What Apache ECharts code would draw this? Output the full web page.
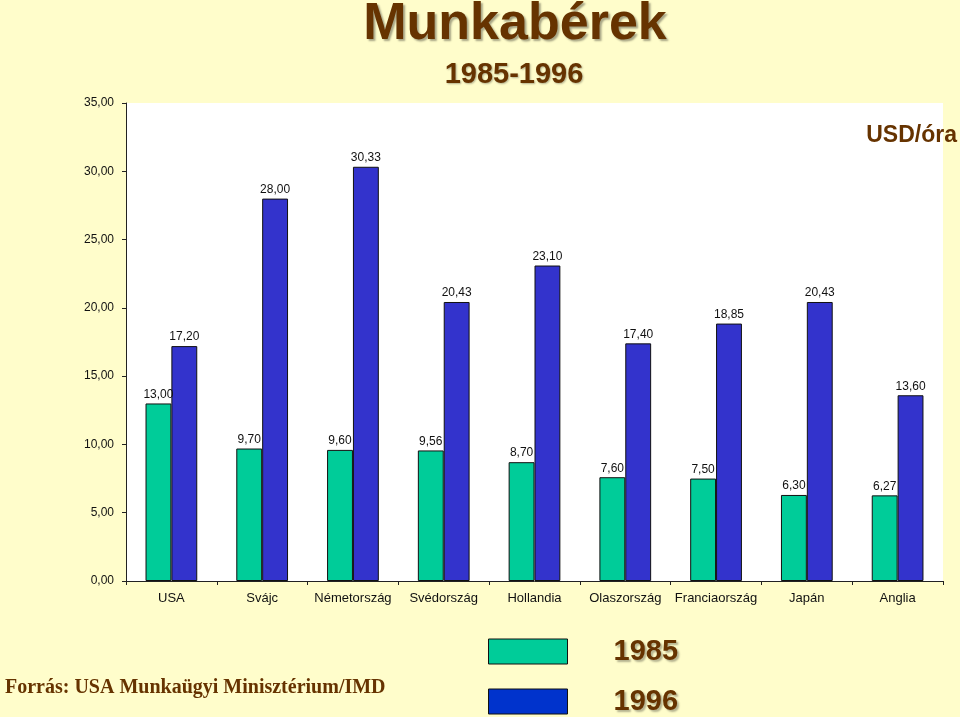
<!DOCTYPE html>
<html><head><meta charset="utf-8">
<style>html,body{margin:0;padding:0;background:#FFFDCB;}#c{width:960px;height:717px;}</style>
<script src="https://cdn.jsdelivr.net/npm/echarts@6/dist/echarts.min.js"></script>
</head><body><div id="c"></div>
<script>
const categories = ['USA','Svájc','Németország','Svédország','Hollandia','Olaszország','Franciaország','Japán','Anglia'];
const values1985 = [13.00, 9.70, 9.60, 9.56, 8.70, 7.60, 7.50, 6.30, 6.27];
const values1996 = [17.20, 28.00, 30.33, 20.43, 23.10, 17.40, 18.85, 20.43, 13.60];
const seriesNames = ['1985','1996'];

const brown = '#663300';
const fmt = v => v.toFixed(2).replace('.', ',');
const chart = echarts.init(document.getElementById('c'), null, {renderer:'canvas'});
const lbl = {show:true, position:'top', distance:3, color:'#111', fontFamily:'Liberation Sans, Arial, sans-serif', fontSize:12, formatter:p=>fmt(p.value)};
const legTextStyle = {padding:[0,0,0,41], lineHeight:25, fontFamily:'Liberation Sans, Arial, sans-serif', fontWeight:'bold', fontSize:29, color:brown, textShadowColor:'rgba(0,0,0,0.3)', textShadowOffsetX:2, textShadowOffsetY:2, textShadowBlur:2};
chart.setOption({
  backgroundColor:'#FFFDCB',
  animation:false,
  title:[
    {text:'Munkabérek', left:510, top:-6, textAlign:'center', textStyle:{fontFamily:'Liberation Sans, Arial, sans-serif', fontWeight:'bold', fontSize:52, color:brown, textShadowColor:'rgba(0,0,0,0.35)', textShadowOffsetX:2, textShadowOffsetY:2, textShadowBlur:2}},
    {text:'1985-1996', left:509, top:55, textAlign:'center', textStyle:{fontFamily:'Liberation Sans, Arial, sans-serif', fontWeight:'bold', fontSize:29, color:brown, textShadowColor:'rgba(0,0,0,0.3)', textShadowOffsetX:1, textShadowOffsetY:1, textShadowBlur:2}},
    {text:'USD/óra', right:3, top:124, padding:0, textStyle:{fontFamily:'Liberation Sans, Arial, sans-serif', fontWeight:'bold', fontSize:23, color:brown}},
    {text:'Forrás: USA Munkaügyi Minisztérium/IMD', left:0, top:673, textStyle:{fontFamily:'Liberation Serif, Times New Roman, serif', fontWeight:'bold', fontSize:20, color:brown}}
  ],
  legend:[
    {left:488, top:637, itemWidth:79, itemHeight:25, padding:0, icon:'rect',
     data:[{name:seriesNames[0], itemStyle:{color:'#00CC99', borderColor:'#111', borderWidth:1}}],
     textStyle:legTextStyle},
    {left:488, top:687, itemWidth:79, itemHeight:25, padding:0, icon:'rect',
     data:[{name:seriesNames[1], itemStyle:{color:'#0033CC', borderColor:'#111', borderWidth:1}}],
     textStyle:legTextStyle}
  ],
  grid:{left:126, right:17, top:103, bottom:136, show:true, backgroundColor:'#FFFFFF', borderWidth:0},
  xAxis:{
    type:'category', data:categories,
    axisLine:{lineStyle:{color:'#222', width:1}},
    axisTick:{show:true, length:4, lineStyle:{color:'#222'}},
    axisLabel:{interval:0, color:'#111', fontFamily:'Liberation Sans, Arial, sans-serif', fontSize:13, margin:11}
  },
  yAxis:{
    type:'value', min:0, max:35, interval:5,
    splitLine:{show:false},
    axisLine:{show:true, lineStyle:{color:'#222', width:1}},
    axisTick:{show:true, length:4, lineStyle:{color:'#222'}},
    axisLabel:{color:'#111', fontFamily:'Liberation Sans, Arial, sans-serif', fontSize:12, margin:12, formatter:v=>fmt(v)}
  },
  series:[
    {name:seriesNames[0], type:'bar', data:values1985, barGap:'0%', barCategoryGap:'43%', itemStyle:{color:'#00CC99', borderColor:'#111', borderWidth:1}, label:lbl},
    {name:seriesNames[1], type:'bar', data:values1996, barGap:'0%', barCategoryGap:'43%', itemStyle:{color:'#3333CC', borderColor:'#111', borderWidth:1}, label:lbl}
  ]
});
</script></body></html>
